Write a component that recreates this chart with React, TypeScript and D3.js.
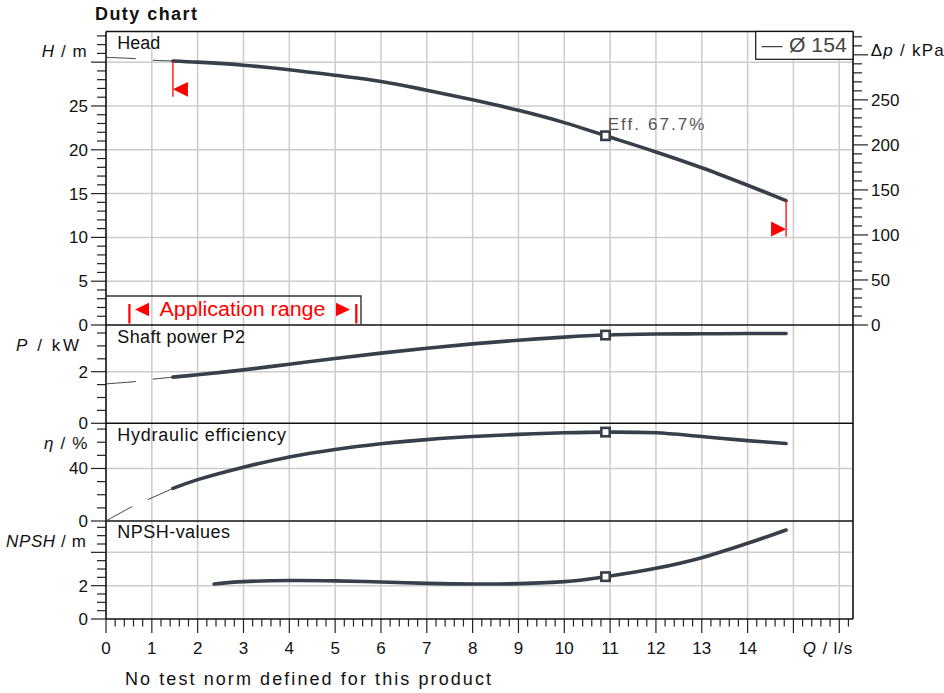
import React from "react";
import * as d3 from "d3";

// ---------- data ----------
const headQ = [0, 0.65, 1.02, 1.46, 2, 3, 4, 5, 6, 7, 8, 9, 10, 10.9, 12, 13, 14, 14.84];
const headH = [30.55, 30.4, 30.22, 30.14, 30.0, 29.65, 29.14, 28.5, 27.8, 26.8, 25.7, 24.5, 23.1, 21.6, 19.75, 17.95, 15.95, 14.2];

const powerQ = [0, 0.65, 1.02, 1.46, 2, 3, 4, 5, 6, 7, 8, 9, 10, 10.9, 12, 13, 14, 14.84];
const powerP = [1.53, 1.62, 1.71, 1.79, 1.88, 2.07, 2.29, 2.51, 2.72, 2.91, 3.08, 3.22, 3.34, 3.42, 3.46, 3.47, 3.48, 3.48];

const effQ = [0, 0.57, 0.94, 1.46, 2, 3, 4, 5, 6, 7, 8, 9, 10, 10.9, 12, 13, 14, 14.84];
const effE = [0, 10.9, 16.7, 24.8, 31.5, 41, 48.8, 54.5, 58.8, 62, 64.3, 66, 67.2, 67.7, 67.2, 64.3, 61.2, 59];

const npshQ = [2.36, 3, 4, 5, 6, 7, 8, 9, 10, 10.9, 12, 13, 14, 14.84];
const npshV = [2.1, 2.24, 2.31, 2.29, 2.22, 2.14, 2.1, 2.12, 2.24, 2.54, 3.04, 3.68, 4.54, 5.34];

const dutyQ = 10.9;
const dutyEffLabel = "Eff. 67.7%";
const appStart = 1.46;
const appEnd = 14.84;

const xTickLabels = ["0", "1", "2", "3", "4", "5", "6", "7", "8", "9", "10", "11", "12", "13", "14"];
const hTickLabels = ["0", "5", "10", "15", "20", "25"];
const kpaTickLabels = ["0", "50", "100", "150", "200", "250"];
const pTickLabels = ["0", "2"];
const effTickLabels = ["0", "40"];
const npshTickLabels = ["0", "2"];
const legendDash = "—";
const legendLabel = "Ø 154";

// ---------- layout ----------
const FONT = "Liberation Sans, Arial, Helvetica, sans-serif";
const LEFT = 106;
const RIGHT = 853;
const TOP = 31.5;
const P1B = 325;
const P2B = 423.3;
const P3B = 521;
const BOTTOM = 619;
const CURVE = "#37404a";
const GRID = "#cccccc";

export default function App() {
  const x = d3.scaleLinear().domain([0, 16.3]).range([LEFT, RIGHT]);
  const yH = d3.scaleLinear().domain([0, 33.5]).range([P1B, TOP]);
  const yK = d3.scaleLinear().domain([0, 325.9]).range([P1B, TOP]);
  const yP = d3.scaleLinear().domain([0, 3.81]).range([P2B, P1B]);
  const yE = d3.scaleLinear().domain([0, 74.4]).range([P3B, P2B]);
  const yN = d3.scaleLinear().domain([0, 5.88]).range([BOTTOM, P3B]);

  const mk = (qs: number[], vs: number[], y: any) => {
    const pts = qs.map((q, i) => [q, vs[i]] as [number, number]);
    const line = d3
      .line<[number, number]>()
      .x((d) => x(d[0]))
      .y((d) => y(d[1]))
      .curve(d3.curveCatmullRom.alpha(0.5));
    const thin = pts.filter((d) => d[0] <= appStart + 1e-9);
    const thick = pts.filter((d) => d[0] >= appStart - 1e-9);
    const di = qs.indexOf(dutyQ);
    return {
      thin: thin.length > 1 ? line(thin) : null,
      thick: line(thick),
      duty: di >= 0 ? [x(qs[di]), y(vs[di])] : null,
    };
  };

  const curves = [
    mk(headQ, headH, yH),
    mk(powerQ, powerP, yP),
    mk(effQ, effE, yE),
    mk(npshQ, npshV, yN),
  ];

  const panels = [
    { y: yH, max: 33.5, minor: 1, major: 5, labels: hTickLabels },
    { y: yP, max: 3.81, minor: 0.5, major: 2, labels: pTickLabels },
    { y: yE, max: 74.4, minor: 10, major: 40, labels: effTickLabels },
    { y: yN, max: 5.88, minor: 0.5, major: 2, labels: npshTickLabels },
  ];

  const els: any[] = [];
  let k = 0;

  d3.range(1, 17).forEach((q) => {
    els.push(<line key={k++} x1={x(q)} x2={x(q)} y1={TOP} y2={BOTTOM} stroke={GRID} strokeWidth={1.5} />);
  });

  panels.forEach((p) => {
    const n = Math.floor(p.max / p.minor + 1e-9);
    for (let i = 0; i <= n; i++) {
      const v = +(i * p.minor).toFixed(4);
      const isMajor = Math.abs(v / p.major - Math.round(v / p.major)) < 1e-6;
      const yy = p.y(v);
      if (isMajor && v > 0) {
        els.push(<line key={k++} x1={LEFT} x2={RIGHT} y1={yy} y2={yy} stroke={GRID} strokeWidth={1.5} />);
      }
      els.push(
        <line key={k++} x1={isMajor ? 91 : 97} x2={LEFT} y1={yy} y2={yy} stroke="#222" strokeWidth={1.2} />
      );
    }
    p.labels.forEach((lab) => {
      const v = +lab;
      els.push(
        <text key={k++} x={88} y={p.y(v) + 6} textAnchor="end" fontSize={17} fontFamily={FONT} fill="#111">
          {lab}
        </text>
      );
    });
  });

  d3.range(0, 330, 10).forEach((v) => {
    const isMajor = v % 50 === 0;
    const yy = yK(v);
    els.push(
      <line key={k++} x1={RIGHT} x2={isMajor ? 868 : 862} y1={yy} y2={yy} stroke="#222" strokeWidth={1.2} />
    );
  });
  kpaTickLabels.forEach((lab) => {
    els.push(
      <text key={k++} x={871} y={yK(+lab) + 6} fontSize={17} fontFamily={FONT} fill="#111">
        {lab}
      </text>
    );
  });

  d3.range(0, 82).forEach((i) => {
    const q = i * 0.2;
    const isMajor = i % 5 === 0;
    els.push(
      <line key={k++} x1={x(q)} x2={x(q)} y1={BOTTOM} y2={isMajor ? 633 : 626.5} stroke="#222" strokeWidth={1.2} />
    );
  });
  xTickLabels.forEach((lab) => {
    els.push(
      <text key={k++} x={x(+lab)} y={654} textAnchor="middle" fontSize={17} fontFamily={FONT} fill="#111">
        {lab}
      </text>
    );
  });

  [TOP, P1B, P2B, P3B, BOTTOM].forEach((yy) => {
    els.push(<line key={k++} x1={LEFT} x2={RIGHT} y1={yy} y2={yy} stroke="#111" strokeWidth={1.6} />);
  });
  els.push(<line key={k++} x1={LEFT} x2={LEFT} y1={TOP} y2={BOTTOM} stroke="#111" strokeWidth={1.6} />);
  els.push(<line key={k++} x1={RIGHT} x2={RIGHT} y1={TOP} y2={BOTTOM} stroke="#111" strokeWidth={1.6} />);

  // application range box
  const boxR = 361;
  const boxT = 296;
  els.push(
    <path key={k++} d={`M${LEFT},${boxT} H${boxR} V${P1B}`} fill="none" stroke="#333" strokeWidth={1.4} />
  );
  els.push(<rect key={k++} x={128.3} y={304} width={2.2} height={19.5} fill="#ff0000" />);
  els.push(<path key={k++} d={`M135,309.5 L149,302.7 L149,316.3 Z`} fill="#ff0000" />);
  els.push(
    <text key={k++} x={159.5} y={316.3} fontSize={20} fontFamily={FONT} fill="#ff0000" textLength={166} lengthAdjust="spacingAndGlyphs">
      Application range
    </text>
  );
  els.push(<path key={k++} d={`M350,309.5 L336,302.7 L336,316.3 Z`} fill="#ff0000" />);
  els.push(<rect key={k++} x={355.2} y={304} width={2.2} height={19.5} fill="#ff0000" />);

  curves.forEach((c) => {
    if (c.thin) {
      els.push(
        <path key={k++} d={c.thin} fill="none" stroke={CURVE} strokeWidth={1} strokeDasharray="30,17" />
      );
    }
    els.push(
      <path key={k++} d={c.thick as string} fill="none" stroke={CURVE} strokeWidth={3.6} strokeLinecap="round" />
    );
  });

  const hs = headH[headQ.indexOf(appStart)];
  const he = headH[headQ.indexOf(appEnd)];
  const xs = x(appStart);
  const ys = yH(hs);
  const xe = x(appEnd);
  const ye = yH(he);
  els.push(<line key={k++} x1={xs} x2={xs} y1={ys} y2={ys + 35.7} stroke="#ff0000" strokeWidth={1.3} />);
  els.push(
    <path key={k++} d={`M${xs},${ys + 28.3} L${xs + 15},${ys + 21} L${xs + 15},${ys + 35.7} Z`} fill="#ff0000" />
  );
  els.push(<line key={k++} x1={xe} x2={xe} y1={ye} y2={ye + 36} stroke="#ff0000" strokeWidth={1.3} />);
  els.push(
    <path key={k++} d={`M${xe},${ye + 28.6} L${xe - 15},${ye + 21} L${xe - 15},${ye + 36} Z`} fill="#ff0000" />
  );

  curves.forEach((c) => {
    if (c.duty) {
      els.push(
        <rect key={k++} x={c.duty[0] - 4.2} y={c.duty[1] - 4.2} width={8.4} height={8.4} fill="#fff" stroke={CURVE} strokeWidth={2.6} />
      );
    }
  });

  // legend
  els.push(<rect key={k++} x={755.7} y={31.5} width={RIGHT - 755.7} height={27.8} fill="#fff" stroke="#111" strokeWidth={1.2} />);
  els.push(
    <text key={k++} x={761.5} y={51.5} fontSize={20} fontFamily={FONT} fill="#444" textLength={21} lengthAdjust="spacingAndGlyphs">
      {legendDash}
    </text>
  );
  els.push(
    <text key={k++} x={789} y={51.5} fontSize={20} fontFamily={FONT} fill="#444" textLength={57.7} lengthAdjust="spacingAndGlyphs">
      {legendLabel}
    </text>
  );

  return (
    <svg width={944} height={693} style={{ position: "absolute", left: 0, top: 0, background: "#fff" }}>
      <rect x={0} y={0} width={944} height={693} fill="#fff" />
      <text x={95} y={20} fontSize={18} fontWeight="bold" fontFamily={FONT} fill="#111" textLength={102} lengthAdjust="spacing">
        Duty chart
      </text>
      {els}
      <text x={117.3} y={49} fontSize={18} fontFamily={FONT} fill="#111">Head</text>
      <text x={117.3} y={342.7} fontSize={18} fontFamily={FONT} fill="#111" textLength={127.7} lengthAdjust="spacing">Shaft power P2</text>
      <text x={117.3} y={440.7} fontSize={18} fontFamily={FONT} fill="#111" textLength={168.7} lengthAdjust="spacing">Hydraulic efficiency</text>
      <text x={117.3} y={538.3} fontSize={18} fontFamily={FONT} fill="#111" textLength={112.7} lengthAdjust="spacing">NPSH-values</text>
      <text x={607.7} y={130} fontSize={17} fontFamily={FONT} fill="#555" textLength={96.7} lengthAdjust="spacing">{dutyEffLabel}</text>
      <text x={41.7} y={56.7} fontSize={17} fontFamily={FONT} fill="#111" textLength={45} lengthAdjust="spacing">
        <tspan fontStyle="italic">H</tspan> / m
      </text>
      <text x={16} y={350.7} fontSize={17} fontFamily={FONT} fill="#111" textLength={63} lengthAdjust="spacing">
        <tspan fontStyle="italic">P</tspan>  / kW
      </text>
      <text x={44} y={449} fontSize={17} fontFamily={FONT} fill="#111" textLength={43.3} lengthAdjust="spacing">
        <tspan fontStyle="italic">η</tspan> / %
      </text>
      <text x={6} y={546.7} fontSize={17} fontFamily={FONT} fill="#111" textLength={80} lengthAdjust="spacing">
        <tspan fontStyle="italic">NPSH</tspan> / m
      </text>
      <text x={870.7} y={56} fontSize={17} fontFamily={FONT} fill="#111" textLength={73} lengthAdjust="spacing">
        Δ<tspan fontStyle="italic">p</tspan> / kPa
      </text>
      <text x={802.7} y={654} fontSize={17} fontFamily={FONT} fill="#111" textLength={49.6} lengthAdjust="spacing">
        <tspan fontStyle="italic">Q</tspan> / l/s
      </text>
      <text x={125} y={685} fontSize={18} fontFamily={FONT} fill="#111" textLength={366} lengthAdjust="spacing">
        No test norm defined for this product
      </text>
    </svg>
  );
}
